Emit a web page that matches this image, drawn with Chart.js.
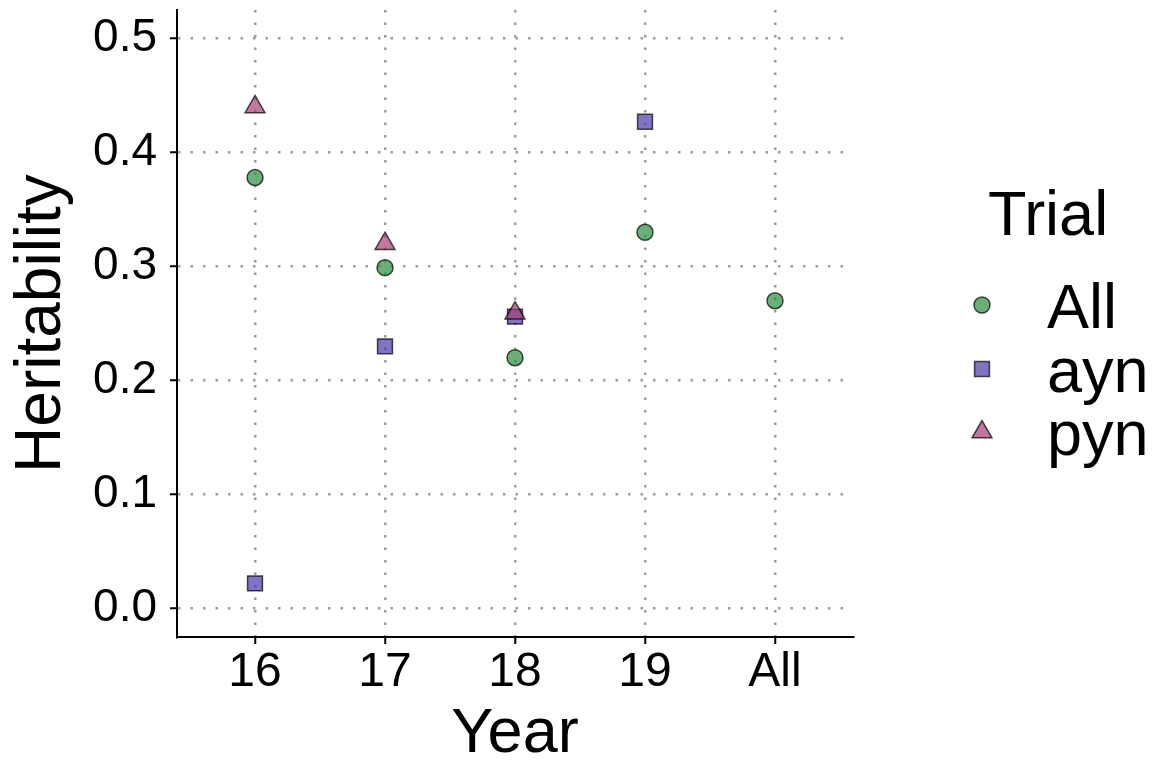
<!DOCTYPE html>
<html>
<head>
<meta charset="utf-8">
<script src="https://cdn.jsdelivr.net/npm/chart.js@4/dist/chart.umd.min.js"></script>
<style>
  html, body { margin: 0; padding: 0; background: #fff; }
  #wrap { width: 1158px; height: 766px; }
</style>
</head>
<body>
<div id="wrap"><canvas id="chart"></canvas></div>
<script>
// data
var years = ['16', '17', '18', '19', 'All'];
var allValues = [0.378, 0.299, 0.220, 0.330, 0.270];
var aynValues = [0.022, 0.230, 0.256, 0.427, null];
var pynValues = [0.440, 0.320, 0.259, null, null];
var yTicks = [0.0, 0.1, 0.2, 0.3, 0.4, 0.5];

var fontFamily = '"Liberation Sans", Arial, Helvetica, sans-serif';
var edge = 'rgba(0, 0, 0, 0.7)';

function toPoints(values) {
    var pts = [];
    values.forEach(function(v, i) {
        if (v !== null) pts.push({ x: i, y: v });
    });
    return pts;
}

var series = [
    { label: 'All', data: allValues, style: 'circle',   radius: 8,    fill: 'rgba(41, 141, 62, 0.7)',  order: 3 },
    { label: 'ayn', data: aynValues, style: 'rect',     radius: 10.5, fill: 'rgba(74, 59, 171, 0.7)',  order: 2 },
    { label: 'pyn', data: pynValues, style: 'triangle', radius: 11.5, fill: 'rgba(165, 62, 119, 0.7)', order: 1 }
];

// legend drawn by hand so its spacing can follow the ggplot layout
var trialLegend = {
    id: 'trialLegend',
    afterDraw: function(chart) {
        var ctx = chart.ctx;
        ctx.save();
        ctx.fillStyle = '#000';
        ctx.textAlign = 'left';
        ctx.textBaseline = 'alphabetic';
        ctx.font = '63px ' + fontFamily;
        ctx.fillText('Trial', 988, 235);
        var baselines = [328, 392, 455];
        series.forEach(function(s, i) {
            var cy = baselines[i] - 23;
            ctx.fillStyle = s.fill;
            ctx.strokeStyle = edge;
            ctx.lineWidth = 1.5;
            Chart.helpers.drawPoint(ctx, {
                pointStyle: s.style, radius: s.radius, rotation: 0, borderWidth: 1.5
            }, 982, cy);
            ctx.fillStyle = '#000';
            ctx.font = '63px ' + fontFamily;
            ctx.fillText(s.label, 1047, baselines[i]);
        });
        ctx.restore();
    }
};

var dotted = {
    display: true,
    color: '#9c9c9c',
    lineWidth: 2.5,
    drawTicks: true,
    tickLength: 7,
    tickColor: '#000',
    tickWidth: 2,
    tickBorderDash: []
};

new Chart(document.getElementById('chart'), {
    type: 'scatter',
    data: {
        datasets: series.map(function(s) {
            return {
                label: s.label,
                data: toPoints(s.data),
                pointStyle: s.style,
                pointRadius: s.radius,
                pointHoverRadius: s.radius,
                backgroundColor: s.fill,
                borderColor: edge,
                borderWidth: 1.5,
                order: s.order
            };
        })
    },
    options: {
        responsive: true,
        maintainAspectRatio: false,
        animation: false,
        layout: { autoPadding: false, padding: { left: 0, right: 305, top: 10, bottom: 0 } },
        plugins: {
            legend: { display: false },
            tooltip: { enabled: false }
        },
        scales: {
            x: {
                type: 'linear',
                min: -0.6,
                max: years.length - 0.4,
                afterBuildTicks: function(scale) {
                    scale.ticks = years.map(function(y, i) { return { value: i }; });
                },
                afterFit: function(scale) {
                    scale.height = 129;
                    scale.paddingLeft = 0;
                    scale.paddingRight = 0;
                },
                ticks: {
                    color: '#000',
                    font: { family: fontFamily, size: 48, lineHeight: 1 },
                    padding: 5,
                    maxRotation: 0,
                    autoSkip: false,
                    callback: function(value) { return years[value]; }
                },
                grid: dotted,
                border: { display: true, color: '#000', width: 2, dash: [2.5, 10] },
                title: {
                    display: true,
                    text: 'Year',
                    color: '#000',
                    font: { family: fontFamily, size: 63, lineHeight: 1 },
                    padding: { top: 0, bottom: 0 }
                }
            },
            y: {
                min: -0.025,
                max: 0.525,
                afterBuildTicks: function(scale) {
                    scale.ticks = yTicks.map(function(v) { return { value: v }; });
                },
                afterFit: function(scale) {
                    scale.width = 177;
                    scale.paddingTop = 0;
                    scale.paddingBottom = 0;
                },
                ticks: {
                    color: '#000',
                    font: { family: fontFamily, size: 46, lineHeight: 1 },
                    padding: 13,
                    callback: function(value) { return value.toFixed(1); }
                },
                grid: dotted,
                border: { display: true, color: '#000', width: 2, dash: [2.5, 10] },
                title: {
                    display: true,
                    text: 'Heritability',
                    color: '#000',
                    font: { family: fontFamily, size: 64, lineHeight: 1 },
                    padding: { top: 10, bottom: 0 }
                }
            }
        }
    },
    plugins: [trialLegend]
});
</script>
</body>
</html>
